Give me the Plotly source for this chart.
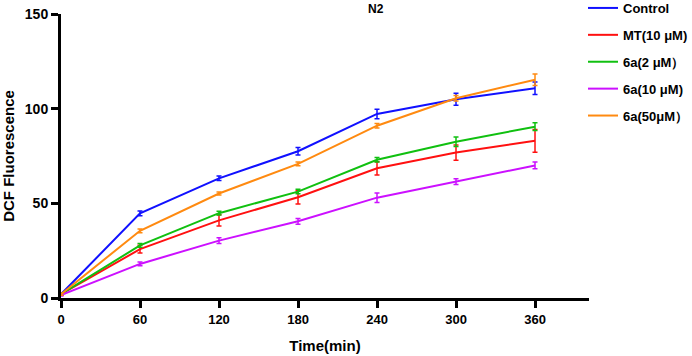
import plotly.graph_objects as go

time_min = [0, 60, 120, 180, 240, 300, 360]
series_names = ["Control", "MT(10 μM)", "6a(2 μM）", "6a(10 μM)", "6a(50μM）"]
control = [2, 44.7, 63.2, 77.5, 97.2, 105.0, 110.8]
control_err = [0.5, 1.2, 1.2, 2.0, 2.5, 3.2, 3.3]
mt10 = [2, 25.8, 41.0, 53.2, 68.5, 76.8, 83.0]
mt10_err = [0.5, 2.0, 3.0, 3.5, 3.5, 4.0, 6.0]
a2 = [2, 27.8, 44.8, 56.2, 73.0, 82.5, 90.5]
a2_err = [0.5, 1.0, 1.0, 1.2, 1.2, 2.5, 2.0]
a10 = [1.5, 18.0, 30.3, 40.5, 53.0, 61.5, 70.0]
a10_err = [0.5, 1.0, 1.5, 1.5, 2.5, 1.5, 1.8]
a50 = [2, 35.5, 55.2, 70.8, 91.0, 105.5, 115.3]
a50_err = [0.5, 1.0, 0.8, 1.0, 1.2, 1.5, 3.0]
colors = ["#1010ff", "#ff1010", "#10c010", "#cc10ff", "#ff8a10"]

values = [control, mt10, a2, a10, a50]
errors = [control_err, mt10_err, a2_err, a10_err, a50_err]

fig = go.Figure()
for name, v, e, c in zip(series_names, values, errors, colors):
    fig.add_trace(go.Scatter(
        x=time_min, y=v, name=name, mode="lines", legendgroup=name,
        line=dict(color=c, width=2),
        error_y=dict(type="data", array=e, visible=True, color=c, thickness=1.5, width=2.5),
    ))

bold = dict(family="Arial, Liberation Sans", color="black", weight="bold")
fig.update_layout(
    width=692, height=356,
    margin=dict(l=61, r=103, t=14, b=58, autoexpand=False),
    plot_bgcolor="white", paper_bgcolor="white",
    showlegend=True,
    legend=dict(x=(583 - 61) / 528, xanchor="left", y=1.074, yanchor="top",
                font=dict(size=13, **bold),
                tracegroupgap=7, bgcolor="rgba(0,0,0,0)"),
    xaxis=dict(range=[0, 401], tickvals=[0, 60, 120, 180, 240, 300, 360], automargin=False,
               showline=True, linecolor="black", linewidth=3, ticks="outside", ticklen=7,
               tickwidth=3, tickcolor="black", showgrid=False, zeroline=False,
               tickfont=dict(size=13, **bold),
               title=dict(text="Time(min)", font=dict(size=15, **bold), standoff=15)),
    yaxis=dict(range=[0, 150], tickvals=[0, 50, 100, 150], automargin=False,
               showline=True, linecolor="black", linewidth=3, ticks="outside", ticklen=7,
               tickwidth=3, tickcolor="black", showgrid=False, zeroline=False,
               tickfont=dict(size=14, **bold),
               title=dict(text="DCF Fluorescence", font=dict(size=15, **bold), standoff=8)),
)
fig.add_annotation(text="N2", xref="paper", yref="paper", x=(376 - 61) / 528, y=1.018,
                   showarrow=False, xanchor="center", yanchor="middle",
                   font=dict(size=12, **bold))
fig.write_html("out.html", config={"displayModeBar": False},
               post_script="document.body.style.margin='0px';")
